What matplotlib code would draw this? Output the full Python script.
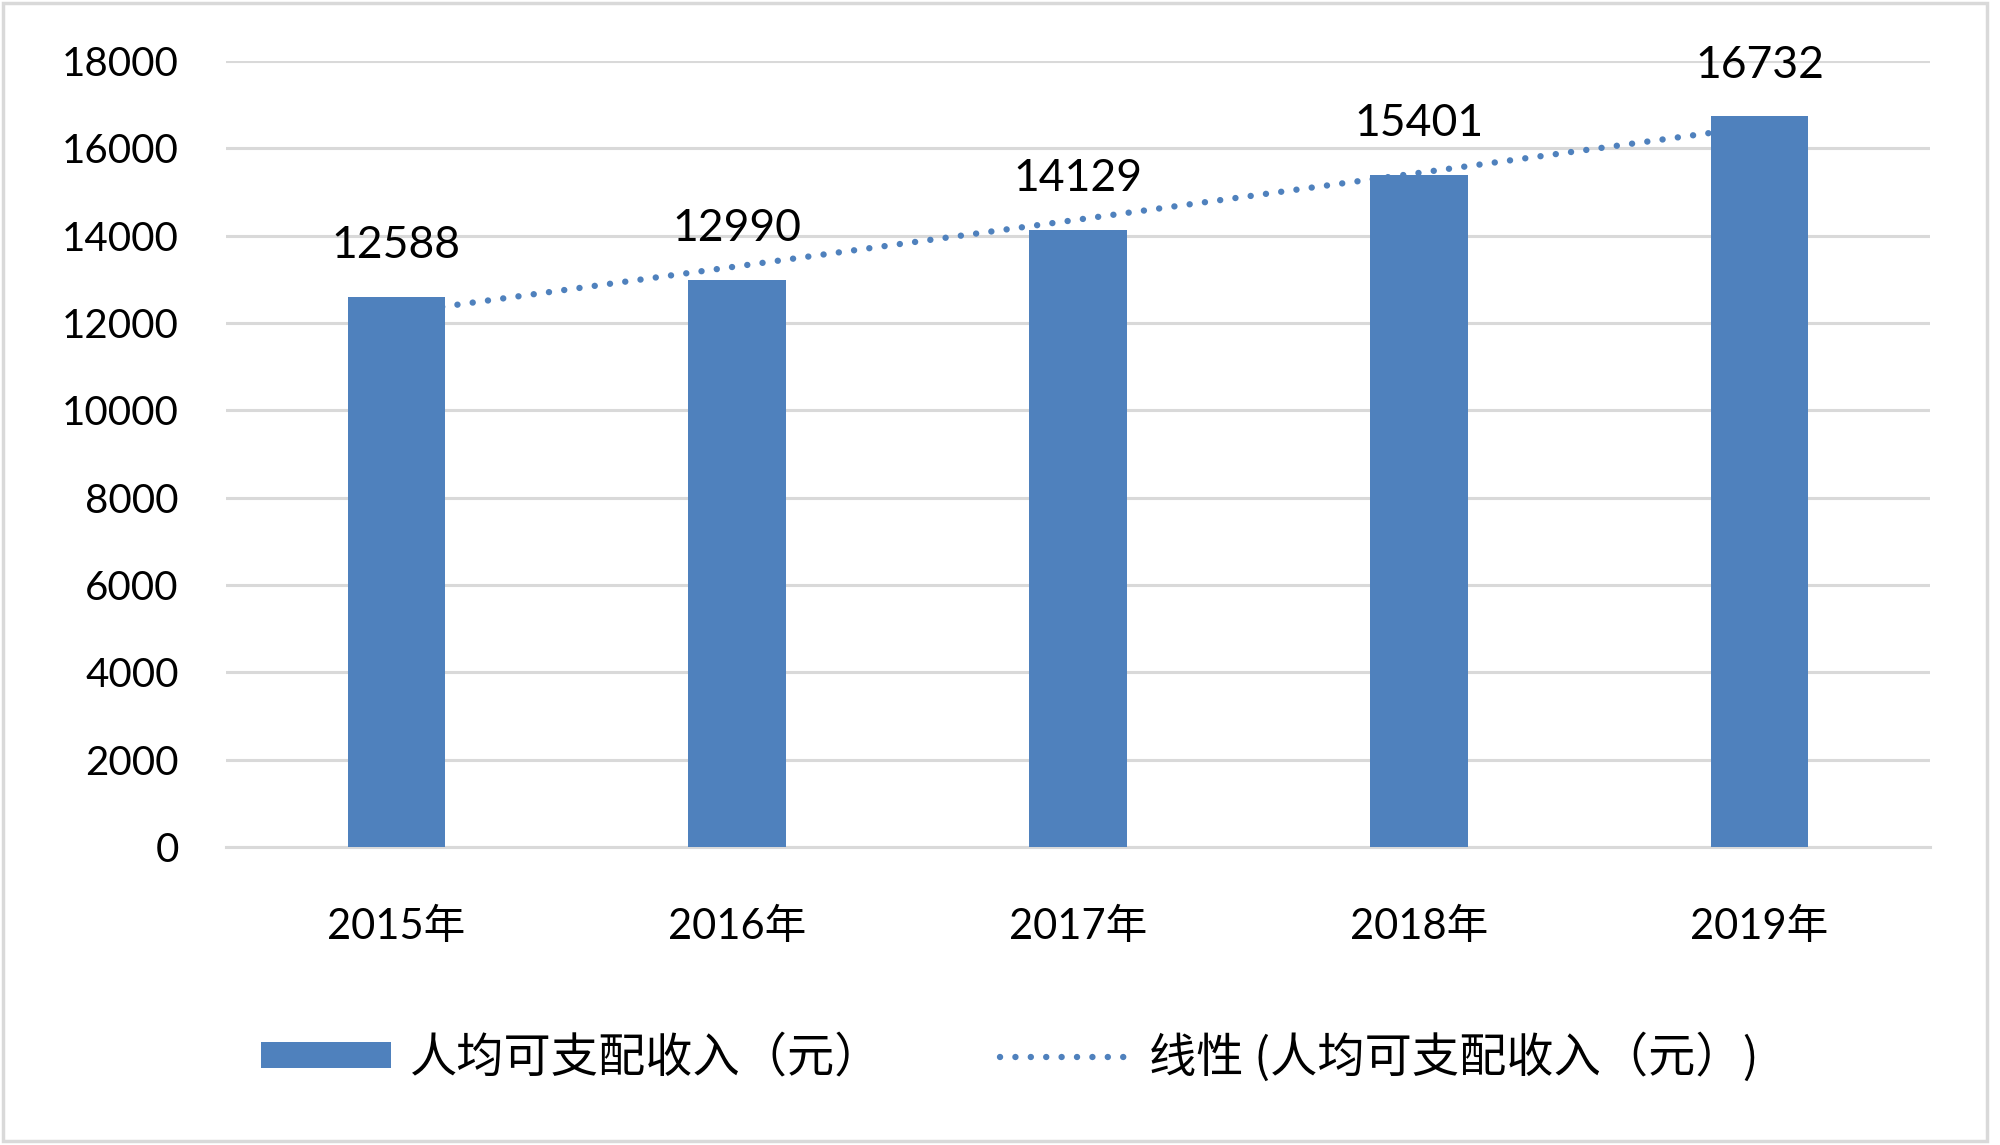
import numpy as np
import matplotlib
matplotlib.use("Agg")
import matplotlib.pyplot as plt
from matplotlib.patches import Rectangle, Patch
from matplotlib.lines import Line2D

years = ["2015年", "2016年", "2017年", "2018年", "2019年"]
income = [12588, 12990, 14129, 15401, 16732]
yticks = [0, 2000, 4000, 6000, 8000, 10000, 12000, 14000, 16000, 18000]
series_name = "人均可支配收入（元）"
trend_name = "线性 (人均可支配收入（元）)"

bar_color = "#4F81BD"
grid_color = "#D9D9D9"
num_font = ["Lato", "Noto Sans CJK SC"]
cjk_font = ["Noto Sans CJK SC", "DejaVu Sans"]


def main():
    fig = plt.figure(figsize=(20, 11.45), dpi=100)
    ax = fig.add_axes([0.113, 0.2603, 0.852, 0.6864])

    x = np.arange(len(years))
    ax.bar(x, income, width=0.286, color=bar_color, zorder=3)

    # linear trendline, like the spreadsheet one
    k, b = np.polyfit(x, income, 1)
    ax.plot(x, k * x + b, color=bar_color, lw=4.6,
            linestyle=(0, (0.01, 2.4)), dash_capstyle="round", zorder=2)

    for xi, v in zip(x, income):
        ax.annotate(str(v), (xi, v), xytext=(0, 37), textcoords="offset points",
                    ha="center", va="center", fontsize=32, family=num_font)

    ax.set_xlim(-0.5, len(years) - 0.5)
    ax.set_ylim(0, 18000)
    ax.set_yticks(yticks)
    ax.set_yticklabels([str(t) for t in yticks], family=num_font, fontsize=29)
    ax.set_xticks(x)
    ax.set_xticklabels(years, family=num_font, fontsize=30)
    ax.tick_params(axis="y", length=0, pad=34)
    ax.tick_params(axis="x", length=0, pad=44)

    ax.grid(axis="y", color=grid_color, lw=2.2, zorder=0)
    for s in ["top", "right", "left"]:
        ax.spines[s].set_visible(False)
    ax.spines["bottom"].set_color(grid_color)
    ax.spines["bottom"].set_linewidth(2.2)

    handles = [
        Patch(facecolor=bar_color, edgecolor="none"),
        Line2D([], [], color=bar_color, lw=4.6, linestyle=(0, (0.01, 2.4)),
               dash_capstyle="round"),
    ]
    fig.legend(handles, [series_name, trend_name], loc="center",
               bbox_to_anchor=(0.505, 0.076), ncol=2, frameon=False,
               prop={"family": cjk_font, "size": 34},
               handlelength=2.75, handleheight=0.5, handletextpad=0.4,
               columnspacing=2.5)

    fig.patches.append(Rectangle((0.0015, 0.0035), 0.992, 0.994,
                                 transform=fig.transFigure, fill=False,
                                 edgecolor=grid_color, lw=2.5))

    fig.savefig("out.png", dpi=100)


if __name__ == "__main__":
    main()
